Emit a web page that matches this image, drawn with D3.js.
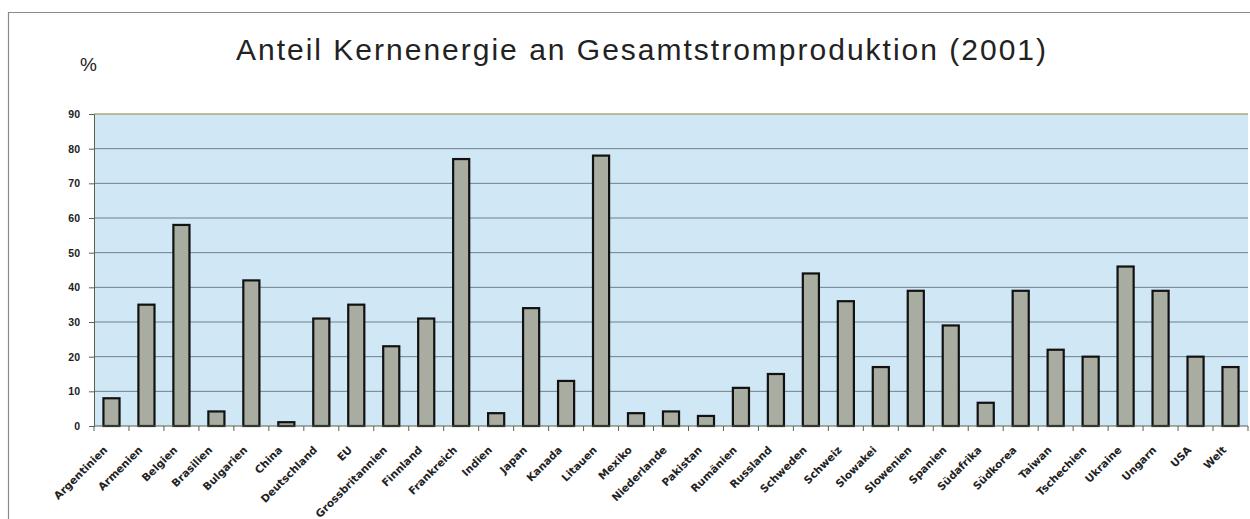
<!DOCTYPE html>
<meta charset="utf-8">
<style>
body { margin: 0; background: #fff; }
text { font-family: "Liberation Sans", Arial, sans-serif; }
.tick text { font-weight: bold; font-size: 10.5px; fill: #222; }
.xlab { font-family: "DejaVu Sans", Verdana, sans-serif; font-size: 10.6px; font-weight: 600; fill: #222; }
</style>
<body>
<script src="https://d3js.org/d3.v7.min.js"></script>
<script>

var countries = ["Argentinien", "Armenien", "Belgien", "Brasilien", "Bulgarien", "China",
  "Deutschland", "EU", "Grossbritannien", "Finnland", "Frankreich", "Indien", "Japan",
  "Kanada", "Litauen", "Mexiko", "Niederlande", "Pakistan", "Rumänien", "Russland",
  "Schweden", "Schweiz", "Slowakei", "Slowenien", "Spanien", "Südafrika", "Südkorea",
  "Taiwan", "Tschechien", "Ukraine", "Ungarn", "USA", "Welt"];
var share = [8, 35, 58, 4.2, 42, 1.1, 31, 35, 23, 31, 77, 3.7, 34, 13, 78, 3.7, 4.2, 2.9,
  11, 15, 44, 36, 17, 39, 29, 6.7, 39, 22, 20, 46, 39, 20, 17];
var yTicks = [0, 10, 20, 30, 40, 50, 60, 70, 80, 90];

var width = 1250, height = 519;
var plotLeft = 94, plotRight = 1248, plotTop = 114, plotBottom = 426;

var svg = d3.select("body").append("svg")
    .attr("width", width)
    .attr("height", height);

// outer frame
svg.append("line").attr("x1", 9).attr("x2", width).attr("y1", 12.5).attr("y2", 12.5)
    .attr("stroke", "#8a8a8a").attr("stroke-width", 1.2);
svg.append("line").attr("x1", 8.5).attr("x2", 8.5).attr("y1", 12).attr("y2", height)
    .attr("stroke", "#8a8a8a").attr("stroke-width", 1.2);

var x = d3.scaleBand().domain(countries).range([plotLeft, plotRight]).paddingInner(0.54).paddingOuter(0.27);
var y = d3.scaleLinear().domain([0, 90]).range([plotBottom, plotTop]);

svg.append("rect")
    .attr("x", plotLeft).attr("y", plotTop)
    .attr("width", plotRight - plotLeft).attr("height", plotBottom - plotTop)
    .attr("fill", "#d0e7f6");

svg.append("line").attr("x1", plotLeft).attr("x2", plotRight).attr("y1", plotTop).attr("y2", plotTop)
    .attr("stroke", "#a8a878").attr("stroke-width", 1.5);

svg.append("g")
  .selectAll("line")
  .data(yTicks.slice(1, -1))
  .enter().append("line")
    .attr("x1", plotLeft).attr("x2", plotRight)
    .attr("y1", function(d) { return y(d); })
    .attr("y2", function(d) { return y(d); })
    .attr("stroke", "#6f8089").attr("stroke-width", 1);

svg.append("g")
  .selectAll("rect")
  .data(share)
  .enter().append("rect")
    .attr("x", function(d, i) { return x(countries[i]); })
    .attr("y", function(d) { return y(d); })
    .attr("width", x.bandwidth())
    .attr("height", function(d) { return y(0) - y(d); })
    .attr("fill", "#a9ada1")
    .attr("stroke", "#111")
    .attr("stroke-width", 2.2);

var yAxis = svg.append("g")
    .attr("transform", "translate(" + plotLeft + ",0)")
    .call(d3.axisLeft(y).tickValues(yTicks).tickSize(5).tickPadding(9));
yAxis.select(".domain").attr("stroke", "#59634a");
yAxis.selectAll(".tick line").attr("stroke", "#59634a");

// x axis with ticks between categories
var xAxis = svg.append("g").attr("transform", "translate(0," + plotBottom + ")");
xAxis.append("line").attr("x1", plotLeft).attr("x2", plotRight).attr("stroke", "#59634a").attr("stroke-width", 1.2);
xAxis.selectAll(".xt")
  .data(countries)
  .enter().append("line")
    .attr("class", "xt")
    .attr("x1", function(d) { return x(d) - x.step() * x.paddingInner() / 2 + x.step(); })
    .attr("x2", function(d) { return x(d) - x.step() * x.paddingInner() / 2 + x.step(); })
    .attr("y1", 0).attr("y2", 5)
    .attr("stroke", "#59634a");
xAxis.append("line").attr("x1", plotLeft).attr("x2", plotLeft).attr("y1", 0).attr("y2", 5).attr("stroke", "#59634a");

xAxis.selectAll(".xlab")
  .data(countries)
  .enter().append("text")
    .attr("class", "xlab")
    .attr("text-anchor", "end")
    .attr("transform", function(d) {
      return "translate(" + (x(d) + x.bandwidth() / 2 - 6) + ",22) rotate(-45)";
    })
    .attr("dy", "0.35em")
    .text(function(d) { return d; });

svg.append("text")
    .attr("x", 642).attr("y", 60)
    .attr("text-anchor", "middle")
    .style("font-size", "30px")
    .style("letter-spacing", "2px")
    .style("fill", "#222")
    .text("Anteil Kernenergie an Gesamtstromproduktion (2001)");

svg.append("text")
    .attr("x", 80).attr("y", 71)
    .style("font-size", "19px")
    .style("fill", "#222")
    .text("%");

</script>
</body>
